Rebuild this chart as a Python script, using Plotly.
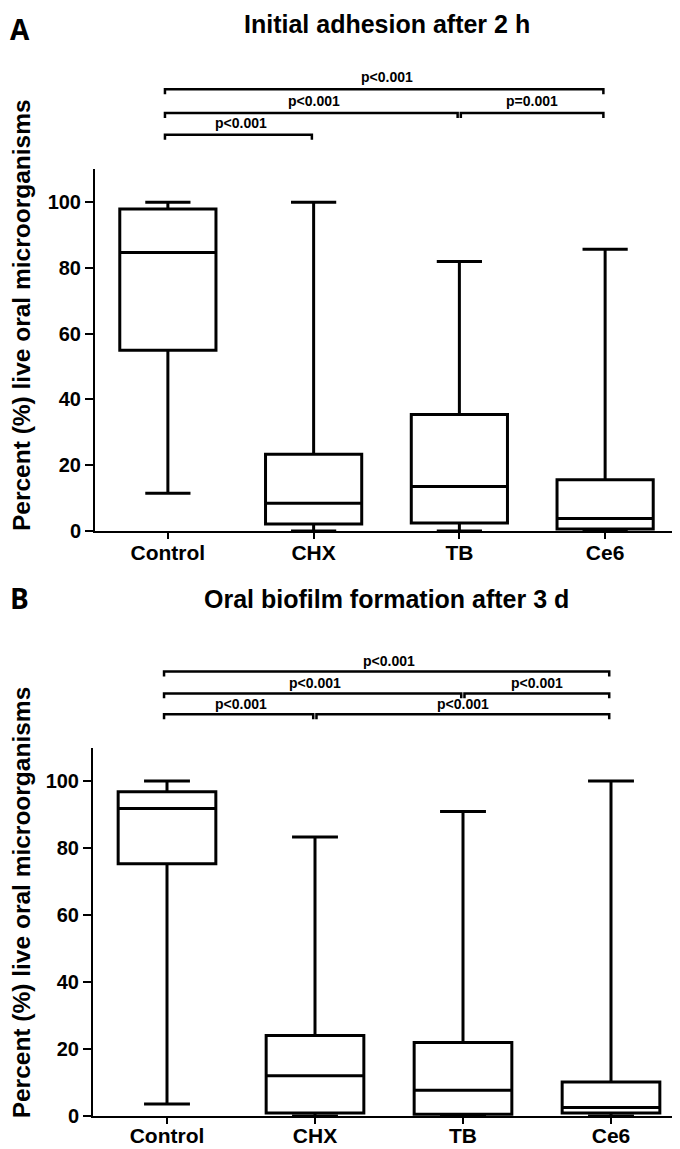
import plotly.graph_objects as go

# ---------------- data ----------------
categories = ["Control", "CHX", "TB", "Ce6"]
tick_values = [0, 20, 40, 60, 80, 100]

# Panel A: Initial adhesion after 2 h
a_min = [11.5, 0.0, 0.0, 0.0]
a_q1 = [55.0, 2.1, 2.4, 0.6]
a_median = [84.7, 8.4, 13.5, 3.8]
a_q3 = [98.0, 23.3, 35.4, 15.6]
a_max = [100.0, 100.0, 82.0, 85.7]

# Panel B: Oral biofilm formation after 3 d
b_min = [3.7, 0.0, 0.0, 0.0]
b_q1 = [75.3, 1.0, 0.6, 1.0]
b_median = [91.8, 12.1, 7.8, 2.6]
b_q3 = [96.8, 24.1, 22.0, 10.2]
b_max = [100.0, 83.3, 90.9, 100.0]

a_pairs = [("Control", "Ce6"), ("Control", "TB"), ("TB", "Ce6"), ("Control", "CHX")]
a_labels = ["p<0.001", "p<0.001", "p=0.001", "p<0.001"]
b_pairs = [("Control", "Ce6"), ("Control", "TB"), ("TB", "Ce6"), ("Control", "CHX"), ("CHX", "Ce6")]
b_labels = ["p<0.001", "p<0.001", "p<0.001", "p<0.001", "p<0.001"]

title_a = "Initial adhesion after 2 h"
title_b = "Oral biofilm formation after 3 d"
y_title = "Percent (%) live oral microorganisms"

# ---------------- layout helpers ----------------
W, H = 680, 1149
def py(px):
    return 1 - px / H

FONT = "Liberation Sans, Arial, sans-serif"

fig = go.Figure()

def add_box(q1, med, q3, lo, hi, xa, ya):
    fig.add_trace(go.Box(
        x=categories, q1=q1, median=med, q3=q3, lowerfence=lo, upperfence=hi,
        fillcolor="white", line=dict(color="black", width=3),
        whiskerwidth=0.47, width=0.66, boxpoints=False,
        xaxis=xa, yaxis=ya, showlegend=False, hoverinfo="skip",
    ))

add_box(a_q1, a_median, a_q3, a_min, a_max, "x", "y")
add_box(b_q1, b_median, b_q3, b_min, b_max, "x2", "y2")

def xaxis_style(domain, anchor, standoff):
    return dict(domain=domain, anchor=anchor, type="category", range=[-0.5, 3.5],
                showline=True, linecolor="black", linewidth=2, mirror=False,
                ticks="outside", ticklen=6, tickwidth=2, tickcolor="black",
                ticklabelstandoff=standoff,
                tickfont=dict(family=FONT, size=21, color="black", weight=700),
                showgrid=False, zeroline=False, categoryorder="array",
                categoryarray=categories)

def yaxis_style(domain, anchor):
    return dict(domain=domain, anchor=anchor, range=[0, 110], tickvals=tick_values,
                showline=True, linecolor="black", linewidth=2,
                ticks="outside", ticklen=8, tickwidth=2, tickcolor="black",
                tickfont=dict(family=FONT, size=20, color="black", weight=700),
                showgrid=False, zeroline=False)

shapes = []
annotations = []

def brackets(pairs, labels, levels_px, text_off, xref):
    idx = {c: i for i, c in enumerate(categories)}
    for (c0, c1), lab, ypx in zip(pairs, labels, levels_px):
        i0, i1 = idx[c0], idx[c1]
        x0 = i0 - 0.02 if i0 == 0 else i0 + 0.01
        x1 = i1 - 0.012
        yl = py(ypx)
        yleg = py(ypx + 5)
        shapes.append(dict(type="path", xref=xref, yref="paper",
                           path=f"M {x0},{yleg} L {x0},{yl} L {x1},{yl} L {x1},{yleg}",
                           line=dict(color="black", width=2.5)))
        annotations.append(dict(x=(i0 + i1) / 2, y=py(ypx - text_off), xref=xref, yref="paper",
                                text=lab, showarrow=False, xanchor="center", yanchor="middle",
                                font=dict(family=FONT, size=14, color="black", weight=700)))

brackets(a_pairs, a_labels, [82, 106, 106, 128], 12, "x")
brackets(b_pairs, b_labels, [670, 692, 692, 713, 713], 10.5, "x2")

# titles
annotations.append(dict(x=378.5 / W, y=1, xref="paper", yref="paper", text=title_a,
                        showarrow=False, xanchor="center", yanchor="top",
                        font=dict(family=FONT, size=25, color="black", weight=700)))
annotations.append(dict(x=378.5 / W, y=py(597), xref="paper", yref="paper", text=title_b,
                        showarrow=False, xanchor="center", yanchor="middle",
                        font=dict(family=FONT, size=25, color="black", weight=700)))
# panel letters
annotations.append(dict(x=0, y=1, xref="paper", yref="paper", text="A",
                        showarrow=False, xanchor="left", yanchor="top",
                        font=dict(family="Open Sans, sans-serif", size=28, color="black", weight=700)))
annotations.append(dict(x=0, y=py(596), xref="paper", yref="paper", text="B",
                        showarrow=False, xanchor="left", yanchor="middle",
                        font=dict(family="Open Sans, sans-serif", size=28, color="black", weight=700)))
# y-axis titles
for yc in (310, 903):
    annotations.append(dict(x=13 / W, y=py(yc), xref="paper", yref="paper", text=y_title,
                            showarrow=False, xanchor="center", yanchor="middle", textangle=-90,
                            font=dict(family=FONT, size=24.5, color="black", weight=700)))

fig.update_layout(
    width=W, height=H, margin=dict(l=0, r=0, t=0, b=0),
    paper_bgcolor="white", plot_bgcolor="white",
    xaxis=xaxis_style([87 / W, 670 / W], "y", -4),
    yaxis=yaxis_style([py(528), py(163)], "x"),
    xaxis2=xaxis_style([85 / W, 677 / W], "y2", -6),
    yaxis2=yaxis_style([py(1119), py(746.7)], "x2"),
    shapes=shapes, annotations=annotations, showlegend=False,
)

fig.write_html("out.html")
